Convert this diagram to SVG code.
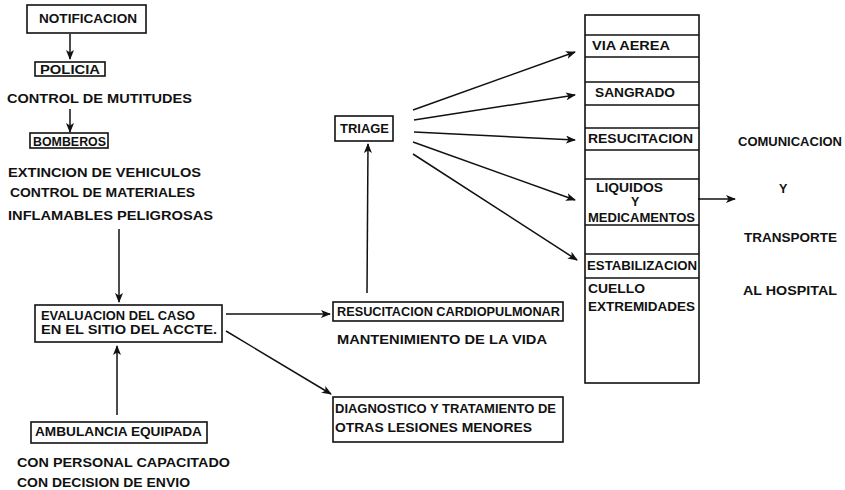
<svg xmlns="http://www.w3.org/2000/svg" width="845" height="490" viewBox="0 0 845 490">
<style>
text{font-family:"Liberation Sans",Arial,sans-serif;font-weight:bold;font-size:12.5px;fill:#111}
.box{fill:none;stroke:#111;stroke-width:1.6}
.ln{fill:none;stroke:#111;stroke-width:1.5;marker-end:url(#ah)}
.row{stroke:#111;stroke-width:1.4}
</style>
<defs>
<marker id="ah" markerUnits="userSpaceOnUse" markerWidth="10" markerHeight="8" refX="9" refY="4" orient="auto">
<path d="M0,0 L10,4 L0,8 L2.5,4 Z" fill="#111"/>
</marker>
</defs>
<rect width="845" height="490" fill="#fff"/>
<g id="connectors">
<line class="ln" x1="70" y1="34" x2="70" y2="59"/>
<line class="ln" x1="70" y1="109" x2="70" y2="132"/>
<line class="ln" x1="119" y1="229" x2="119" y2="302"/>
<line class="ln" x1="117" y1="415" x2="117" y2="346"/>
<line class="ln" x1="226" y1="314" x2="330" y2="314"/>
<line class="ln" x1="226" y1="331" x2="331" y2="394"/>
<line class="ln" x1="367" y1="293" x2="368" y2="144"/>
<line class="ln" x1="413" y1="110" x2="575" y2="52"/>
<line class="ln" x1="414" y1="120" x2="575" y2="95"/>
<line class="ln" x1="414" y1="132" x2="575" y2="140"/>
<line class="ln" x1="413" y1="142" x2="575" y2="200"/>
<line class="ln" x1="413" y1="154" x2="577" y2="260"/>
<line class="ln" x1="698" y1="199" x2="735" y2="199"/>
</g>
<g id="notificacion"><rect class="box" x="27" y="5" width="119" height="28"/><text x="39" y="23" textLength="98" lengthAdjust="spacingAndGlyphs">NOTIFICACION</text></g>
<g id="policia"><rect class="box" x="35" y="62" width="70" height="14"/><text x="40" y="74" textLength="60" lengthAdjust="spacingAndGlyphs">POLICIA</text></g>
<g id="policia-desc"><text x="7" y="103" textLength="185" lengthAdjust="spacingAndGlyphs">CONTROL DE MUTITUDES</text></g>
<g id="bomberos"><rect class="box" x="30" y="133" width="78" height="15"/><text x="33" y="146" textLength="73" lengthAdjust="spacingAndGlyphs">BOMBEROS</text></g>
<g id="bomberos-desc">
<text x="8" y="177" textLength="193" lengthAdjust="spacingAndGlyphs">EXTINCION DE VEHICULOS</text>
<text x="10" y="197" textLength="185" lengthAdjust="spacingAndGlyphs">CONTROL DE MATERIALES</text>
<text x="8" y="220" textLength="205" lengthAdjust="spacingAndGlyphs">INFLAMABLES PELIGROSAS</text>
</g>
<g id="evaluacion"><rect class="box" x="35" y="305" width="187" height="37"/>
<text x="41" y="320" textLength="154" lengthAdjust="spacingAndGlyphs">EVALUACION DEL CASO</text>
<text x="41" y="334" textLength="176" lengthAdjust="spacingAndGlyphs">EN EL SITIO DEL  ACCTE.</text></g>
<g id="ambulancia"><rect class="box" x="31" y="422" width="176" height="21"/><text x="35" y="436" textLength="167" lengthAdjust="spacingAndGlyphs">AMBULANCIA EQUIPADA</text></g>
<g id="ambulancia-desc">
<text x="17" y="467" textLength="213" lengthAdjust="spacingAndGlyphs">CON PERSONAL CAPACITADO</text>
<text x="17" y="487" textLength="173" lengthAdjust="spacingAndGlyphs">CON DECISION DE ENVIO</text>
</g>
<g id="triage"><rect class="box" x="335" y="116" width="58" height="25"/><text x="340" y="133" textLength="49" lengthAdjust="spacingAndGlyphs">TRIAGE</text></g>
<g id="rcp"><rect class="box" x="333" y="302" width="230" height="19"/><text x="337" y="316" textLength="223" lengthAdjust="spacingAndGlyphs">RESUCITACION CARDIOPULMONAR</text></g>
<g id="rcp-desc"><text x="337" y="344" textLength="210" lengthAdjust="spacingAndGlyphs">MANTENIMIENTO DE LA VIDA</text></g>
<g id="diagnostico"><rect class="box" x="333" y="397" width="230" height="45"/>
<text x="335" y="413" textLength="221" lengthAdjust="spacingAndGlyphs">DIAGNOSTICO Y TRATAMIENTO DE</text>
<text x="335" y="432" textLength="197" lengthAdjust="spacingAndGlyphs">OTRAS LESIONES MENORES</text></g>
<g id="columna">
<rect class="box" x="585" y="15" width="114" height="368"/>
<line class="row" x1="585" y1="35" x2="699" y2="35"/>
<line class="row" x1="585" y1="57" x2="699" y2="57"/>
<line class="row" x1="585" y1="82" x2="699" y2="82"/>
<line class="row" x1="585" y1="105" x2="699" y2="105"/>
<line class="row" x1="585" y1="128" x2="699" y2="128"/>
<line class="row" x1="585" y1="150" x2="699" y2="150"/>
<line class="row" x1="585" y1="179" x2="699" y2="179"/>
<line class="row" x1="585" y1="225" x2="699" y2="225"/>
<line class="row" x1="585" y1="254" x2="699" y2="254"/>
<line class="row" x1="585" y1="278" x2="699" y2="278"/>
<text x="592" y="50" textLength="78" lengthAdjust="spacingAndGlyphs">VIA AEREA</text>
<text x="595" y="97" textLength="80" lengthAdjust="spacingAndGlyphs">SANGRADO</text>
<text x="588" y="143" textLength="105" lengthAdjust="spacingAndGlyphs">RESUCITACION</text>
<text x="596" y="192" font-size="11.5" textLength="67" lengthAdjust="spacingAndGlyphs">LIQUIDOS</text>
<text x="631" y="206" font-size="9">Y</text>
<text x="588" y="222" textLength="107" lengthAdjust="spacingAndGlyphs">MEDICAMENTOS</text>
<text x="587" y="270" textLength="110" lengthAdjust="spacingAndGlyphs">ESTABILIZACION</text>
<text x="588" y="293" textLength="57" lengthAdjust="spacingAndGlyphs">CUELLO</text>
<text x="588" y="311" textLength="107" lengthAdjust="spacingAndGlyphs">EXTREMIDADES</text>
</g>
<g id="transporte">
<text x="738" y="146" textLength="104" lengthAdjust="spacingAndGlyphs">COMUNICACION</text>
<text x="779" y="193">Y</text>
<text x="744" y="242" textLength="93" lengthAdjust="spacingAndGlyphs">TRANSPORTE</text>
<text x="743" y="295" textLength="94" lengthAdjust="spacingAndGlyphs">AL HOSPITAL</text>
</g>
</svg>
